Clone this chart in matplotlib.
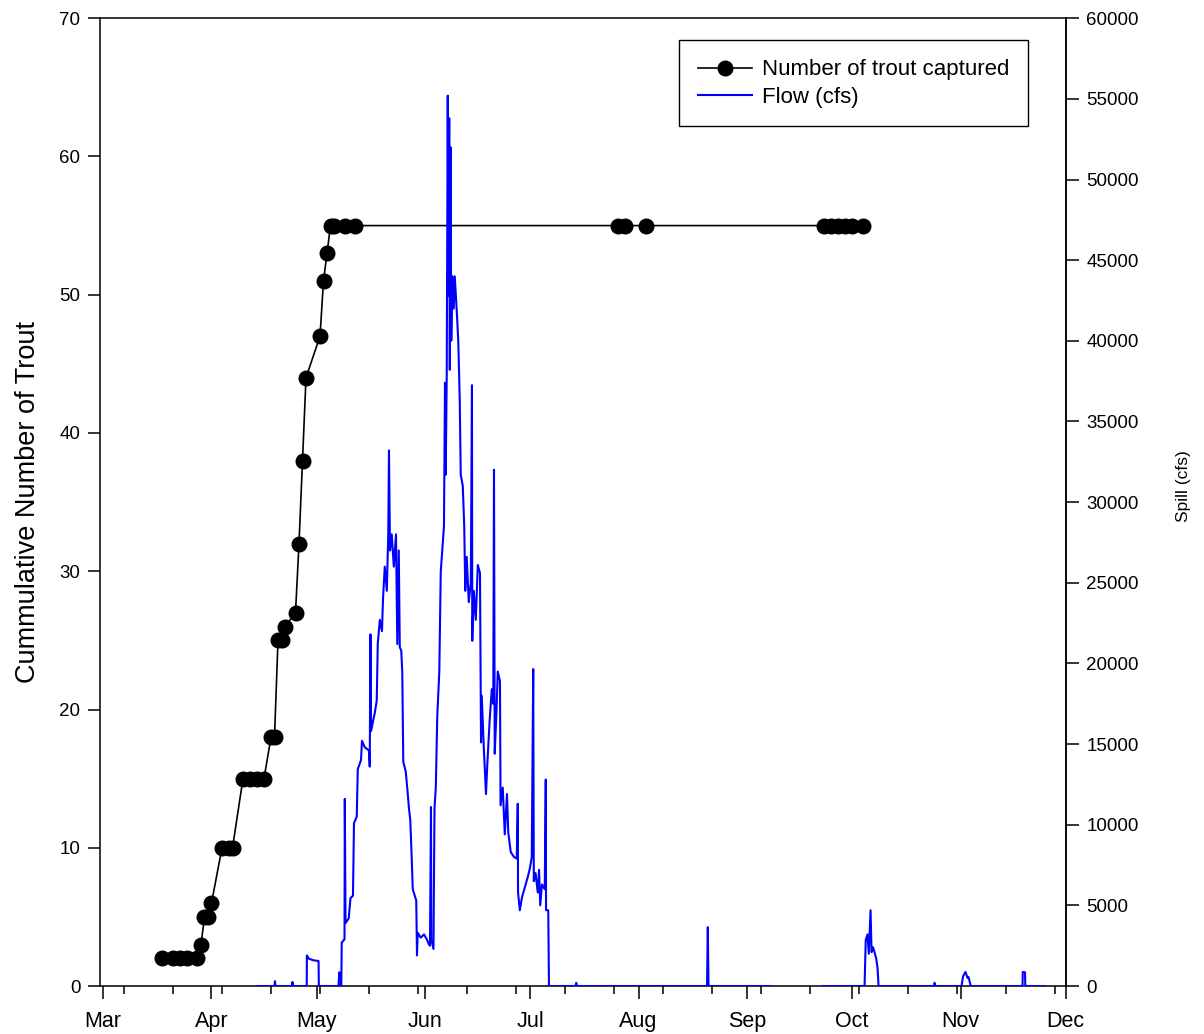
import matplotlib
matplotlib.use("Agg")
import matplotlib.pyplot as plt
import pandas as pd
import numpy as np
from matplotlib.lines import Line2D

plt.rcParams['font.family'] = ['Liberation Sans', 'DejaVu Sans']

# Cumulative trout captures
trout_dates = ['2011-03-18', '2011-03-21', '2011-03-23', '2011-03-25', '2011-03-28',
               '2011-03-29', '2011-03-30', '2011-03-31', '2011-04-01', '2011-04-04',
               '2011-04-06', '2011-04-07', '2011-04-10', '2011-04-12', '2011-04-14',
               '2011-04-16', '2011-04-18', '2011-04-19', '2011-04-20', '2011-04-21',
               '2011-04-22', '2011-04-25', '2011-04-26', '2011-04-27', '2011-04-28',
               '2011-05-02', '2011-05-03', '2011-05-04', '2011-05-05', '2011-05-06',
               '2011-05-09', '2011-05-12', '2011-07-26', '2011-07-28', '2011-08-03',
               '2011-09-23', '2011-09-25', '2011-09-27', '2011-09-29', '2011-10-01',
               '2011-10-04']
trout_counts = [2, 2, 2, 2, 2, 3, 5, 5, 6, 10, 10, 10, 15, 15, 15, 15, 18, 18, 25, 25,
                26, 27, 32, 38, 44, 47, 51, 53, 55, 55, 55, 55, 55, 55, 55, 55, 55, 55,
                55, 55, 55]

# Spill record (cfs); None marks missing record
flow_times = [
    '2011-04-14 00:00', '2011-04-19 00:00', '2011-04-19 03:00', '2011-04-19 07:00',
    '2011-04-24 00:00', '2011-04-24 03:00', '2011-04-24 07:00', '2011-04-28 05:00',
    '2011-04-28 06:00', '2011-04-28 19:00', '2011-04-30 00:00', '2011-05-01 14:00',
    '2011-05-01 16:00', '2011-05-07 07:00', '2011-05-07 12:00', '2011-05-07 17:00',
    '2011-05-08 02:00', '2011-05-08 05:00', '2011-05-09 00:00', '2011-05-09 02:00',
    '2011-05-09 07:00', '2011-05-10 05:00', '2011-05-10 17:00', '2011-05-11 10:00',
    '2011-05-11 17:00', '2011-05-12 12:00', '2011-05-12 19:00', '2011-05-13 17:00',
    '2011-05-14 00:00', '2011-05-14 19:00', '2011-05-16 00:00', '2011-05-16 05:00',
    '2011-05-16 10:00', '2011-05-16 14:00', '2011-05-17 17:00', '2011-05-18 05:00',
    '2011-05-18 12:00', '2011-05-19 02:00', '2011-05-19 17:00', '2011-05-20 00:00',
    '2011-05-20 12:00', '2011-05-21 02:00', '2011-05-21 12:00', '2011-05-21 17:00',
    '2011-05-22 00:00', '2011-05-22 12:00', '2011-05-23 02:00', '2011-05-23 17:00',
    '2011-05-24 02:00', '2011-05-24 12:00', '2011-05-24 19:00', '2011-05-25 05:00',
    '2011-05-25 12:00', '2011-05-25 19:00', '2011-05-26 12:00', '2011-05-27 00:00',
    '2011-05-27 10:00', '2011-05-27 19:00', '2011-05-28 05:00', '2011-05-28 12:00',
    '2011-05-29 02:00', '2011-05-29 12:00', '2011-05-29 17:00', '2011-05-29 22:00',
    '2011-05-30 19:00', '2011-05-31 17:00', '2011-06-01 12:00', '2011-06-02 02:00',
    '2011-06-02 10:00', '2011-06-02 17:00', '2011-06-02 19:00', '2011-06-03 10:00',
    '2011-06-03 17:00', '2011-06-04 02:00', '2011-06-04 12:00', '2011-06-05 02:00',
    '2011-06-05 12:00', '2011-06-06 02:00', '2011-06-06 10:00', '2011-06-06 17:00',
    '2011-06-06 22:00', '2011-06-07 05:00', '2011-06-07 12:00', '2011-06-07 17:00',
    '2011-06-07 22:00', '2011-06-08 02:00', '2011-06-08 07:00', '2011-06-08 12:00',
    '2011-06-08 19:00', '2011-06-09 05:00', '2011-06-09 12:00', '2011-06-10 02:00',
    '2011-06-10 12:00', '2011-06-10 22:00', '2011-06-11 05:00', '2011-06-11 19:00',
    '2011-06-12 05:00', '2011-06-12 12:00', '2011-06-12 22:00', '2011-06-13 12:00',
    '2011-06-14 02:00', '2011-06-14 10:00', '2011-06-14 12:00', '2011-06-14 22:00',
    '2011-06-15 12:00', '2011-06-16 02:00', '2011-06-16 17:00', '2011-06-17 00:00',
    '2011-06-17 05:00', '2011-06-17 19:00', '2011-06-18 10:00', '2011-06-18 19:00',
    '2011-06-19 12:00', '2011-06-20 02:00', '2011-06-20 12:00', '2011-06-20 17:00',
    '2011-06-20 22:00', '2011-06-21 10:00', '2011-06-21 19:00', '2011-06-22 10:00',
    '2011-06-22 14:00', '2011-06-23 05:00', '2011-06-23 19:00', '2011-06-24 10:00',
    '2011-06-24 19:00', '2011-06-25 12:00', '2011-06-26 10:00', '2011-06-27 05:00',
    '2011-06-27 12:00', '2011-06-27 14:00', '2011-06-28 02:00', '2011-06-28 17:00',
    '2011-06-29 12:00', '2011-06-30 10:00', '2011-06-30 22:00', '2011-07-01 12:00',
    '2011-07-01 22:00', '2011-07-02 02:00', '2011-07-02 14:00', '2011-07-03 05:00',
    '2011-07-03 14:00', '2011-07-03 22:00', '2011-07-04 10:00', '2011-07-05 05:00',
    '2011-07-05 12:00', '2011-07-05 14:00', '2011-07-06 05:00', '2011-07-06 10:00',
    '2011-07-14 00:00', '2011-07-14 05:00', '2011-07-14 10:00', '2011-08-20 14:00',
    '2011-08-20 19:00', '2011-08-21 00:00', '2011-09-08 00:00', '2011-09-08 01:00',
    '2011-09-22 14:00', '2011-10-04 14:00', '2011-10-04 22:00', '2011-10-05 10:00',
    '2011-10-05 19:00', '2011-10-06 07:00', '2011-10-06 14:00', '2011-10-07 00:00',
    '2011-10-07 10:00', '2011-10-07 22:00', '2011-10-08 07:00', '2011-10-08 14:00',
    '2011-10-24 12:00', '2011-10-24 14:00', '2011-10-24 19:00', '2011-11-01 07:00',
    '2011-11-01 17:00', '2011-11-02 10:00', '2011-11-03 00:00', '2011-11-03 07:00',
    '2011-11-03 17:00', '2011-11-03 22:00', '2011-11-18 17:00', '2011-11-18 19:00',
    '2011-11-19 10:00', '2011-11-19 12:00', '2011-11-25 02:00',
]
flow_cfs = [
    0, 0, 300, 0,
    0, 250, 0, 0,
    1900, 1700, 1600, 1550,
    0, 0, 850, 0,
    0, 2700, 2900, 11600,
    3900, 4200, 5450, 5600,
    10100, 10500, 13450, 14000,
    15200, 14800, 14600, 13600,
    21800, 15800, 17000, 17700,
    21200, 22700, 22000, 24000,
    26000, 24500, 28000, 33200,
    27000, 28000, 26000, 28000,
    21200, 27000, 21000, 20800,
    19500, 13900, 13300, 12100,
    11000, 10300, 7900, 6000,
    5600, 5300, 1900, 3300,
    3000, 3200, 2900, 2600,
    2500, 11100, 2900, 2300,
    11000, 12300, 16700, 19500,
    25700, 27500, 28500, 37400,
    31700, 38000, 55200, 42800,
    53800, 38200, 52000, 40000,
    44000, 42000, 44000, 41800,
    40000, 36400, 31700, 31000,
    28500, 24500, 26600, 23800,
    25000, 37250, 21400, 24500,
    22700, 26100, 25600, 15100,
    18000, 14800, 11900, 13700,
    16600, 18400, 17500, 32000,
    14400, 17000, 19500, 18900,
    11200, 12300, 9400, 11900,
    9500, 8300, 8000, 7900,
    11300, 5800, 4700, 5500,
    6100, 6800, 7250, 8000,
    19650, 6500, 7000, 5800,
    7200, 5000, 6300, 6000,
    12800, 4700, 4700, 0,
    0, 200, 0, 0,
    3650, 0, 0, None,
    0, 0, 2850, 3200,
    2000, 4700, 2100, 2400,
    2100, 1700, 1100, 0,
    0, 200, 0, 0,
    600, 870, 500, 550,
    200, 0, 0, 870,
    850, 0, 0,
]

month_labels = ['Mar', 'Apr', 'May', 'Jun', 'Jul', 'Aug', 'Sep', 'Oct', 'Nov', 'Dec']

tdates = pd.to_datetime(trout_dates)
ftimes = pd.to_datetime(flow_times)
fvals = np.array([np.nan if v is None else v for v in flow_cfs], dtype=float)

fig = plt.figure(figsize=(12.04, 10.34), dpi=100)
ax = fig.add_axes([0.083, 0.0464, 0.802, 0.936])
ax2 = ax.twinx()

ax.plot(tdates, trout_counts, color='black', lw=1.2, marker='o', ms=10.5,
        markerfacecolor='black', markeredgecolor='black', zorder=3)
ax2.plot(ftimes, fvals, color='#0000ff', lw=1.5, zorder=3)

x0 = pd.Timestamp('2011-02-28 03:00')
x1 = pd.Timestamp('2011-12-01')
ax.set_xlim(x0, x1)
ax.set_ylim(0, 70)
ax2.set_ylim(0, 60000)

major = pd.date_range('2011-03-01', '2011-12-01', freq='MS')
ax.set_xticks(major)
ax.set_xticklabels(month_labels)
minor = pd.date_range('2011-03-07', '2011-11-30', freq='14D')
ax.set_xticks(minor, minor=True)
ax.set_yticks(np.arange(0, 71, 10))
ax2.set_yticks(np.arange(0, 60001, 5000))

ax.tick_params(axis='both', which='major', direction='out', length=9, width=1.1,
               labelsize=13.5, pad=5)
ax.tick_params(axis='x', which='major', labelsize=15.5, pad=9)
ax.tick_params(axis='x', which='minor', direction='out', length=6, width=1.1)
ax.tick_params(axis='x', top=False)
ax2.tick_params(axis='y', which='major', direction='out', length=9, width=1.1,
                labelsize=13.5, pad=6)

for sp in ax.spines.values():
    sp.set_linewidth(1.1)
for name in ['top', 'bottom', 'left']:
    ax2.spines[name].set_visible(False)
ax2.spines['right'].set_linewidth(1.1)

ax.set_ylabel('Cummulative Number of Trout', fontsize=19.5)
ax.yaxis.set_label_coords(-0.061, 0.5)
ax2.set_ylabel('Spill (cfs)', fontsize=12.5)
ax2.yaxis.set_label_coords(1.114, 0.517)

handles = [Line2D([], [], color='black', lw=1.2, marker='o', ms=10.5),
           Line2D([], [], color='#0000ff', lw=1.5)]
leg = ax2.legend(handles, ['Number of trout captured', 'Flow (cfs)'],
                 loc='upper right', bbox_to_anchor=(0.961, 0.977), fontsize=16,
                 frameon=True, fancybox=False, framealpha=1, edgecolor='black',
                 borderpad=0.85, handlelength=2.4, labelspacing=0.28,
                 handletextpad=0.45, borderaxespad=0)
leg.get_frame().set_linewidth(1.0)

fig.savefig('out.png', dpi=100)
